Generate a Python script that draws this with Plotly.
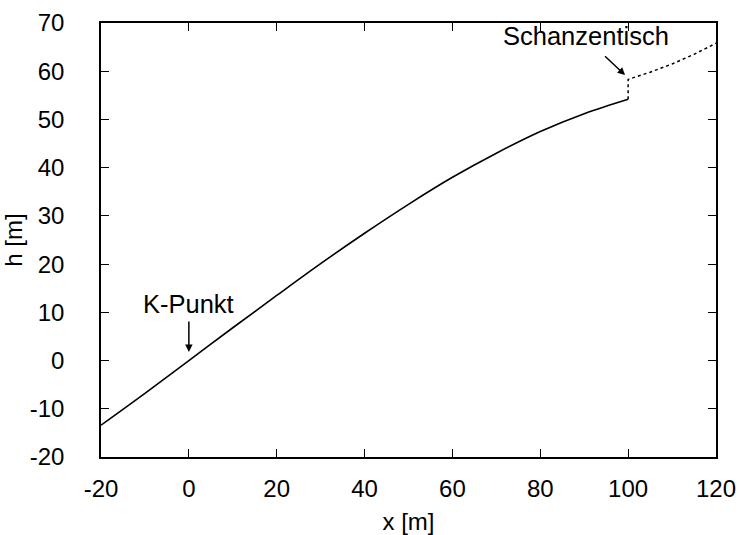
import plotly.graph_objects as go

# Solid profile (landing hill)
x_hill = [-20, -10, 0, 10, 20, 30, 40, 50, 60, 70, 80, 90, 100]
h_hill = [-13.4, -6.8, 0, 6.8, 13.5, 20.1, 26.4, 32.4, 38.0, 43.0, 47.5, 51.2, 54.2]

# Dotted part (take-off table and in-run)
x_table = [100, 100, 105, 110, 115, 120]
h_table = [54.2, 58.3, 59.8, 61.5, 63.5, 65.8]

x_ticks = [-20, 0, 20, 40, 60, 80, 100, 120]
y_ticks = [-20, -10, 0, 10, 20, 30, 40, 50, 60, 70]

FONT = "Liberation Sans, Arial, Helvetica, sans-serif"

fig = go.Figure()
fig.add_trace(go.Scatter(x=x_hill, y=h_hill, mode="lines",
                         line=dict(color="black", width=1.6, shape="spline"),
                         showlegend=False))
fig.add_trace(go.Scatter(x=x_table, y=h_table, mode="lines",
                         line=dict(color="black", width=1.5, dash="dot"),
                         showlegend=False))

fig.add_annotation(x=99.3, y=59.2, ax=94.4, ay=63.4, xref="x", yref="y",
                   axref="x", ayref="y", showarrow=True, arrowhead=2,
                   arrowsize=1, arrowwidth=1.5, arrowcolor="black", text="")
fig.add_annotation(x=90.3, y=67.3, xref="x", yref="y", showarrow=False,
                   text="Schanzentisch", font=dict(size=25.5, color="black", family=FONT))

fig.add_annotation(x=0, y=1.8, ax=0, ay=8.4, xref="x", yref="y",
                   axref="x", ayref="y", showarrow=True, arrowhead=2,
                   arrowsize=1, arrowwidth=1.5, arrowcolor="black", text="")
fig.add_annotation(x=0, y=11.8, xref="x", yref="y", showarrow=False,
                   text="K-Punkt", font=dict(size=25.5, color="black", family=FONT))

axis_common = dict(showline=True, linecolor="black", linewidth=1.5, mirror="ticks",
                   ticks="inside", ticklen=8, tickwidth=1.2, tickcolor="black",
                   showgrid=False, zeroline=False,
                   tickfont=dict(size=24, color="black", family=FONT))

fig.update_xaxes(range=[-20, 120], tickvals=x_ticks, ticktext=[str(v) for v in x_ticks],
                 title=dict(text="x [m]", font=dict(size=24, color="black", family=FONT), standoff=14),
                 ticklabelstandoff=9, **axis_common)
fig.update_yaxes(range=[-20, 70], tickvals=y_ticks, ticktext=[str(v) for v in y_ticks],
                 title=dict(text="h [m]", font=dict(size=24, color="black", family=FONT), standoff=5),
                 ticklabelstandoff=30, **axis_common)

fig.update_layout(width=739, height=535, margin=dict(l=101, r=23, t=23, b=78, autoexpand=False),
                  plot_bgcolor="white", paper_bgcolor="white",
                  font=dict(family=FONT, size=24, color="black"))

fig.write_html("out.html", config={"displayModeBar": False},
               post_script="document.body.style.margin='0';document.body.style.overflow='hidden';")
